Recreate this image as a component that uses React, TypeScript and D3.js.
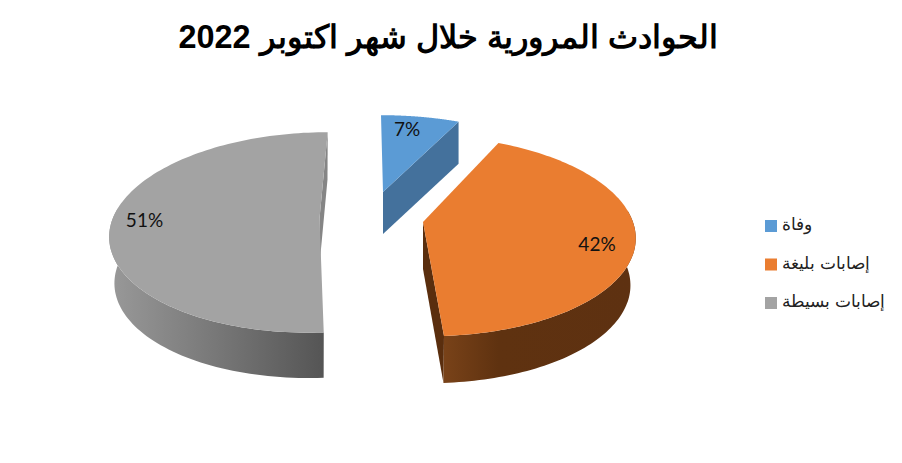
import React from "react";
import * as d3 from "d3";

const titleText = "الحوادث المرورية خلال شهر اكتوبر 2022";
const categories = ["وفاة", "إصابات بليغة", "إصابات بسيطة"];
const values = [7, 42, 51];
const labels = ["7%", "42%", "51%"];
const topColors = ["#5b9bd5", "#ea7d30", "#a3a3a3"];

const W = 902, H = 463;
const RX = 211, RY = 98.3, K = 0.139;

// Exploded-slice placement in the perspective projection
const geometry = [
  { ax: 383, ay: 192, sx: 0.97, sy: 0.89, shear: 0.026, depth: 42, bx: 1, by: 1, lx: 24, ly: -63 },
  { ax: 423, ay: 222, sx: 0.995, sy: 1, shear: 0.05, depth: 47, bx: 0.975, by: 1, lx: 174, ly: 22 },
  { ax: 319.5, ay: 218.5, sx: 0.98, sy: 1, shear: -0.095, depth: 46.5, bx: 0.975, by: 0.99, lx: -175, ly: 1 },
];

type G = (typeof geometry)[number];
const project = (g: G, a: number, bottom = false): [number, number] => {
  const u = Math.sin(a), v = Math.cos(a), w = 1 + K * v;
  const dx = (RX * g.sx * u) / w, dy = (-RY * g.sy * v) / w;
  const px = dx + g.shear * dy;
  if (!bottom) return [g.ax + px, g.ay + dy];
  return [g.ax + px * g.bx, g.ay + g.depth + dy * g.by];
};

const arcs = d3.pie<number>().sort(null).value((d) => d)(values);
const line = d3.line<[number, number]>();
const samples = (a0: number, a1: number) => d3.range(0, 121).map((i) => a0 + ((a1 - a0) * i) / 120);

export default function App() {
  const slices = arcs.map((arc, i) => {
    const g = geometry[i];
    const as = samples(arc.startAngle, arc.endAngle);
    const top = as.map((a) => project(g, a));
    const apex: [number, number] = [g.ax, g.ay];
    const apexB: [number, number] = [g.ax, g.ay + g.depth];
    const face = (line([apex, ...top]) ?? "") + "Z";
    const visible = as.filter((a) => Math.cos(a) < 0.12);
    const outer = visible.length
      ? (line([...visible.map((a) => project(g, a)), ...[...visible].reverse().map((a) => project(g, a, true))]) ?? "") + "Z"
      : null;
    const cut = (a: number) => (line([apex, project(g, a), project(g, a, true), apexB]) ?? "") + "Z";
    return { i, g, arc, face, outer, cut };
  });
  const [blue, orange, gray] = slices;

  return (
    <svg width={W} height={H} viewBox={`0 0 ${W} ${H}`} style={{ position: "absolute", left: 0, top: 0, background: "#fff" }}>
      <defs>
        <linearGradient id="wo" gradientUnits="userSpaceOnUse" x1={441} x2={632} y1={0} y2={0}>
          <stop offset="0" stopColor="#7a4319" />
          <stop offset="0.3" stopColor="#5f3210" />
          <stop offset="1" stopColor="#5e3111" />
        </linearGradient>
        <linearGradient id="wg" gradientUnits="userSpaceOnUse" x1={113} x2={323} y1={0} y2={0}>
          <stop offset="0" stopColor="#989898" />
          <stop offset="0.5" stopColor="#777777" />
          <stop offset="1" stopColor="#555555" />
        </linearGradient>
      </defs>
      <text x={448} y={48} textAnchor="middle" direction="rtl" fontFamily="Liberation Sans, Arial, sans-serif" fontWeight="bold" fontSize={32.4} fill="#000">
        {titleText}
      </text>

      {/* grey slice */}
      <path d={gray.cut(gray.arc.endAngle)} fill="#858585" />
      {gray.outer && <path d={gray.outer} fill="url(#wg)" />}
      <path d={gray.face} fill={topColors[2]} />

      {/* orange slice */}
      <path d={orange.cut(orange.arc.endAngle)} fill="#5a2e0e" />
      {orange.outer && <path d={orange.outer} fill="url(#wo)" />}
      <path d={orange.face} fill={topColors[1]} />

      {/* blue slice */}
      <path d={blue.cut(blue.arc.endAngle)} fill="#44719c" />
      <path d={blue.face} fill={topColors[0]} />

      {slices.map((s) => (
        <text key={s.i} x={s.g.ax + s.g.lx} y={s.g.ay + s.g.ly + 7} textAnchor="middle" fontFamily="Lato, Carlito, sans-serif" fontSize={19} fill="#111">
          {labels[s.i]}
        </text>
      ))}

      {categories.map((c, i) => {
        const y = 220 + i * 38.5;
        return (
          <g key={c}>
            <rect x={765} y={y} width={12} height={12} fill={topColors[i]} />
            <text x={782} y={y + 10} textAnchor="end" direction="rtl" fontFamily="Liberation Sans, Arial, sans-serif" fontSize={16.5} fill="#222">
              {c}
            </text>
          </g>
        );
      })}
    </svg>
  );
}
